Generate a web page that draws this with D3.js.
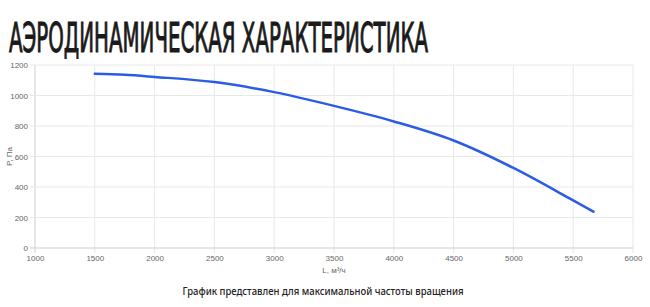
<!DOCTYPE html>
<html>
<head>
<meta charset="utf-8">
<script src="https://cdn.jsdelivr.net/npm/d3@7"></script>
<style>
  body { margin: 0; background: #fff; }
  svg { display: block; }
</style>
</head>
<body>
<div id="chart"></div>
<script>
// Аэродинамическая характеристика - P(L)

const flow = [1500, 1750, 2000, 2500, 3000, 3500, 4000, 4500, 5000, 5500, 5670];
const pressure = [1142, 1136, 1122, 1088, 1022, 932, 830, 705, 525, 312, 238];
const xTicks = [1000, 1500, 2000, 2500, 3000, 3500, 4000, 4500, 5000, 5500, 6000];
const yTicks = [0, 200, 400, 600, 800, 1000, 1200];

const width = 650;
const height = 307;
const margin = {top: 65, right: 17, bottom: 59, left: 35};

const svg = d3.select("#chart")
    .append("svg")
    .attr("width", width)
    .attr("height", height);

svg.append("text")
    .attr("x", 9)
    .attr("y", 52)
    .attr("font-family", "'DejaVu Sans Condensed', 'DejaVu Sans', sans-serif")
    .attr("font-stretch", "condensed")
    .attr("font-size", 40)
    .attr("fill", "#1a1a1a")
    .attr("stroke", "#1a1a1a")
    .attr("stroke-width", 1)
    .attr("textLength", 419)
    .attr("lengthAdjust", "spacingAndGlyphs")
    .text("АЭРОДИНАМИЧЕСКАЯ ХАРАКТЕРИСТИКА");

const innerWidth = width - margin.left - margin.right;
const innerHeight = height - margin.top - margin.bottom;

const inner = svg.append("g")
    .attr("transform", `translate(${margin.left}, ${margin.top})`);

const xScale = d3.scaleLinear().domain([1000, 6000]).range([0, innerWidth]);
const yScale = d3.scaleLinear().domain([0, 1200]).range([innerHeight, 0]);

// grid
inner.append("g")
    .selectAll("line")
    .data(xTicks)
    .join("line")
    .attr("x1", d => xScale(d)).attr("x2", d => xScale(d))
    .attr("y1", 0).attr("y2", innerHeight + 5)
    .attr("stroke", d => d === 1000 ? "#cfcfcf" : "#e8e8e8")
    .attr("stroke-width", 1);

inner.append("g")
    .selectAll("line")
    .data(yTicks)
    .join("line")
    .attr("x1", -5).attr("x2", innerWidth)
    .attr("y1", d => yScale(d)).attr("y2", d => yScale(d))
    .attr("stroke", d => d === 0 ? "#cfcfcf" : "#e8e8e8")
    .attr("stroke-width", 1);

const xAxis = d3.axisBottom(xScale).tickValues(xTicks).tickFormat(d3.format("d")).tickSize(0).tickPadding(7);
const yAxis = d3.axisLeft(yScale).tickValues(yTicks).tickFormat(d3.format("d")).tickSize(0).tickPadding(7);

const gx = inner.append("g")
    .attr("transform", `translate(0, ${innerHeight})`)
    .call(xAxis);
const gy = inner.append("g").call(yAxis);

[gx, gy].forEach(g => {
    g.attr("font-size", null).attr("font-family", null);
    g.select(".domain").remove();
    g.selectAll("text")
        .attr("font-family", "'Liberation Sans', Arial, sans-serif")
        .attr("font-size", 8)
        .attr("fill", "#666");
});

svg.append("text")
    .attr("transform", `translate(12, ${margin.top + innerHeight / 2}) rotate(-90)`)
    .attr("text-anchor", "middle")
    .attr("font-family", "'Liberation Sans', Arial, sans-serif")
    .attr("font-size", 8)
    .attr("fill", "#666")
    .text("P, Па");

svg.append("text")
    .attr("x", margin.left + innerWidth / 2)
    .attr("y", 273)
    .attr("text-anchor", "middle")
    .attr("font-family", "'Liberation Sans', Arial, sans-serif")
    .attr("font-size", 8)
    .attr("fill", "#666")
    .text("L, м³/ч");

const line = d3.line()
    .x((d, i) => xScale(flow[i]))
    .y(d => yScale(d))
    .curve(d3.curveMonotoneX);

inner.append("path")
    .datum(pressure)
    .attr("fill", "none")
    .attr("stroke", "#2b5ce6")
    .attr("stroke-width", 2.5)
    .attr("stroke-linecap", "round")
    .attr("d", line);

svg.append("text")
    .attr("x", 323)
    .attr("y", 295)
    .attr("text-anchor", "middle")
    .attr("font-family", "'Noto Sans', 'Open Sans', sans-serif")
    .attr("font-weight", 500)
    .attr("font-size", 11)
    .attr("fill", "#222")
    .attr("textLength", 281)
    .attr("lengthAdjust", "spacingAndGlyphs")
    .text("График представлен для максимальной частоты вращения");
</script>
</body>
</html>
